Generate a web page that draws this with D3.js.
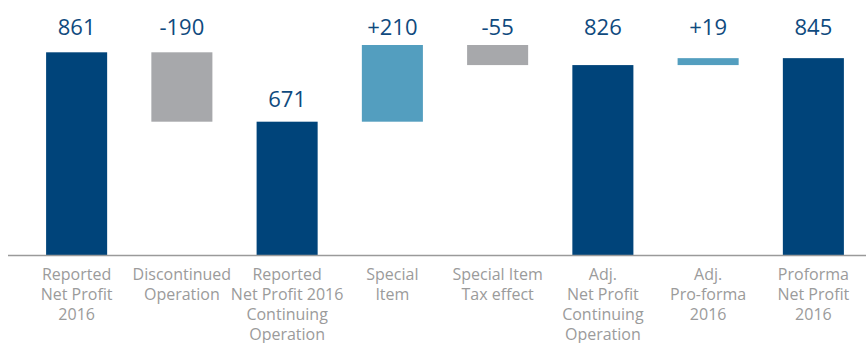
<!DOCTYPE html>
<html lang="en">
<head>
    <meta charset="UTF-8">
    <title>Net Profit Bridge</title>
    <style>
        body { margin: 0; background: #fff; }
        text { font-family: "Open Sans", "Noto Sans", sans-serif; }
    </style>
</head>
<body>
    <svg id="chart" width="866" height="343"></svg>

    <script src="https://cdn.jsdelivr.net/npm/d3@7"></script>
    <script>
        // chart values
        var categories = [
            ["Reported", "Net Profit", "2016"],
            ["Discontinued", "Operation"],
            ["Reported", "Net Profit 2016", "Continuing", "Operation"],
            ["Special", "Item"],
            ["Special Item", "Tax effect"],
            ["Adj.", "Net Profit", "Continuing", "Operation"],
            ["Adj.", "Pro-forma", "2016"],
            ["Proforma", "Net Profit", "2016"]
        ];
        var values = [861, -190, 671, 210, -55, 826, 19, 845];
        var kinds = ["total", "delta", "total", "delta", "delta", "total", "delta", "total"];
        var valueLabels = ["861", "-190", "671", "+210", "-55", "826", "+19", "845"];

        var colors = { total: "#00447a", up: "#539ebf", down: "#a7a8ab" };

        // work out the floating bars
        var running = 0;
        var bars = values.map(function (v, i) {
            var lo, hi;
            if (kinds[i] === "total") {
                lo = null; hi = v; running = v;
            } else {
                lo = Math.min(running, running + v);
                hi = Math.max(running, running + v);
                running = running + v;
            }
            return { i: i, v: v, kind: kinds[i], lo: lo, hi: hi };
        });

        var width = 866, height = 343, baseY = 255;
        var svg = d3.select("#chart");

        var x = d3.scaleBand()
            .domain(d3.range(categories.length))
            .range([24, 866])
            .paddingInner(0.42)
            .paddingOuter(0.21);

        // the value axis does not start at zero in the original
        var y = d3.scaleLinear()
            .domain([306, 881])
            .range([baseY, 45]);

        svg.selectAll("rect.bar")
            .data(bars)
            .enter().append("rect")
            .attr("class", "bar")
            .attr("x", d => x(d.i))
            .attr("width", x.bandwidth())
            .attr("y", d => y(d.hi))
            .attr("height", d => (d.lo === null ? baseY : y(d.lo)) - y(d.hi))
            .attr("fill", d => d.kind === "total" ? colors.total : (d.v > 0 ? colors.up : colors.down));

        // baseline
        svg.append("line")
            .attr("x1", 8)
            .attr("x2", width)
            .attr("y1", baseY + 0.5)
            .attr("y2", baseY + 0.5)
            .attr("stroke", "#9a9a9a")
            .attr("stroke-width", 1.5);

        // value labels: a common row at the top, lower only when the bar is far below it
        var labelRow = 35;
        svg.selectAll("text.value")
            .data(bars)
            .enter().append("text")
            .attr("class", "value")
            .attr("x", d => x(d.i) + x.bandwidth() / 2)
            .attr("y", d => (y(d.hi) - labelRow > 60) ? y(d.hi) - 15 : labelRow)
            .attr("text-anchor", "middle")
            .attr("fill", "#0f4a7e")
            .style("font-size", "22px")
            .text(d => valueLabels[d.i]);

        // category labels
        var cat = svg.selectAll("text.cat")
            .data(categories)
            .enter().append("text")
            .attr("class", "cat")
            .attr("text-anchor", "middle")
            .attr("fill", "#9b9b9b")
            .style("font-size", "16px");

        cat.selectAll("tspan")
            .data((d, i) => d.map(line => ({ line: line, i: i })))
            .enter().append("tspan")
            .attr("x", d => x(d.i) + x.bandwidth() / 2)
            .attr("y", (d, j) => 280 + j * 20)
            .text(d => d.line);
    </script>
</body>
</html>
